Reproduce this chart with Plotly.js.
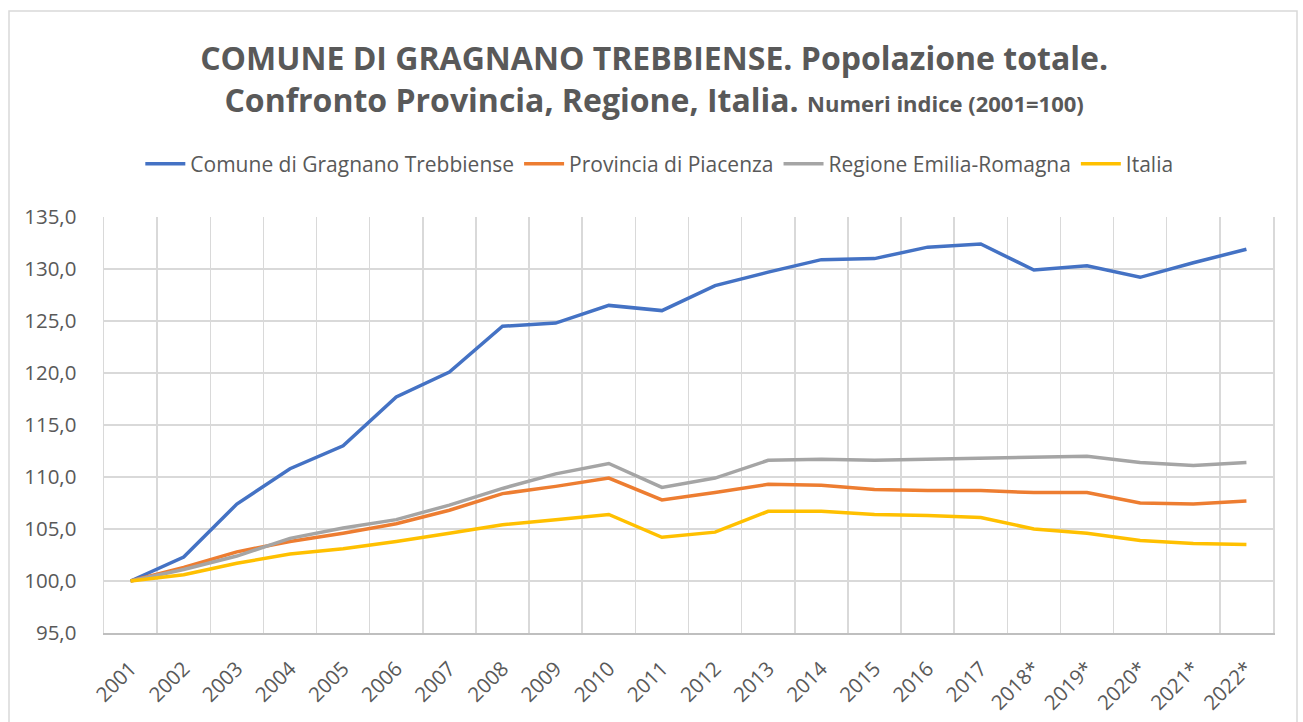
<!DOCTYPE html>
<html>
<head>
<meta charset="utf-8">
<script src="https://cdn.plot.ly/plotly-3.0.1.min.js"></script>
<style>
html,body{margin:0;padding:0;background:#fff;}
#chart{width:1303px;height:722px;}
</style>
</head>
<body>
<div id="chart"></div>
<script>
const years = ["2001","2002","2003","2004","2005","2006","2007","2008","2009","2010","2011","2012","2013","2014","2015","2016","2017","2018*","2019*","2020*","2021*","2022*"];
const comune = [100.0,102.3,107.4,110.8,113.0,117.7,120.1,124.5,124.8,126.5,126.0,128.4,129.7,130.9,131.0,132.1,132.4,129.9,130.3,129.2,130.6,131.9];
const provincia = [100.0,101.3,102.8,103.8,104.6,105.5,106.8,108.4,109.1,109.9,107.8,108.5,109.3,109.2,108.8,108.7,108.7,108.5,108.5,107.5,107.4,107.7];
const regione = [100.0,101.1,102.4,104.1,105.1,105.9,107.3,108.9,110.3,111.3,109.0,109.9,111.6,111.7,111.6,111.7,111.8,111.9,112.0,111.4,111.1,111.4];
const italia = [100.0,100.6,101.7,102.6,103.1,103.8,104.6,105.4,105.9,106.4,104.2,104.7,106.7,106.7,106.4,106.3,106.1,105.0,104.6,103.9,103.6,103.5];

const seriesNames = ["Comune di Gragnano Trebbiense","Provincia di Piacenza","Regione Emilia-Romagna","Italia"];
const seriesColors = ["#4472C4","#ED7D31","#A5A5A5","#FFC000"];
const seriesData = [comune, provincia, regione, italia];

const FONT = "'Open Sans', Lato, sans-serif";
const TXT = "#595959";

const traces = seriesData.map((d, i) => ({
  type: "scatter",
  mode: "lines",
  x: years,
  y: d,
  name: seriesNames[i],
  line: {color: seriesColors[i], width: 3.5}
}));

const layout = {
  width: 1303,
  height: 722,
  paper_bgcolor: "#ffffff",
  plot_bgcolor: "#ffffff",
  margin: {l: 104, r: 30, t: 217, b: 89},
  separators: ",.",
  font: {family: FONT, color: TXT},
  title: {
    text: "<b>COMUNE DI GRAGNANO TREBBIENSE. Popolazione totale.<br>Confronto Provincia, Regione, Italia. <span style=\"font-size:22px\">Numeri indice (2001=100)</span></b>",
    font: {family: FONT, size: 32, color: TXT},
    x: 0.502,
    xanchor: "center",
    xref: "container",
    yref: "container",
    y: 0.903,
    yanchor: "top"
  },
  showlegend: true,
  legend: {
    orientation: "h",
    x: 0.506,
    xanchor: "center",
    xref: "container",
    yref: "container",
    y: 1 - 164/722,
    yanchor: "middle",
    font: {family: FONT, size: 21, color: TXT},
    itemwidth: 40,
    traceorder: "normal"
  },
  xaxis: {
    type: "category",
    range: [-0.5, 21.5],
    tickson: "boundaries",
    showgrid: true,
    gridcolor: "#d9d9d9",
    gridwidth: 1.5,
    showline: true,
    linecolor: "#bfbfbf",
    linewidth: 1.5,
    ticks: "",
    ticklabelstandoff: 14,
    tickangle: -45,
    tickfont: {family: FONT, size: 20.5, color: TXT},
    zeroline: false,
    fixedrange: true
  },
  yaxis: {
    range: [95, 135],
    dtick: 5,
    tick0: 95,
    tickformat: ".1f",
    showgrid: true,
    gridcolor: "#d9d9d9",
    gridwidth: 1.5,
    showline: true,
    mirror: true,
    linecolor: "#d9d9d9",
    linewidth: 1.5,
    ticks: "",
    ticklabelstandoff: 22,
    tickfont: {family: FONT, size: 20.5, color: TXT},
    zeroline: false,
    fixedrange: true
  },
  shapes: [{
    type: "rect",
    xref: "paper", yref: "paper",
    x0: (9 - 104) / 1169, x1: (1297 - 104) / 1169,
    y0: (633 - 730) / 416, y1: (633 - 11) / 416,
    line: {color: "#d9d9d9", width: 1.5},
    fillcolor: "rgba(0,0,0,0)",
    layer: "below"
  }]
};

Plotly.newPlot("chart", traces, layout, {displayModeBar: false, staticPlot: true});
</script>
</body>
</html>
